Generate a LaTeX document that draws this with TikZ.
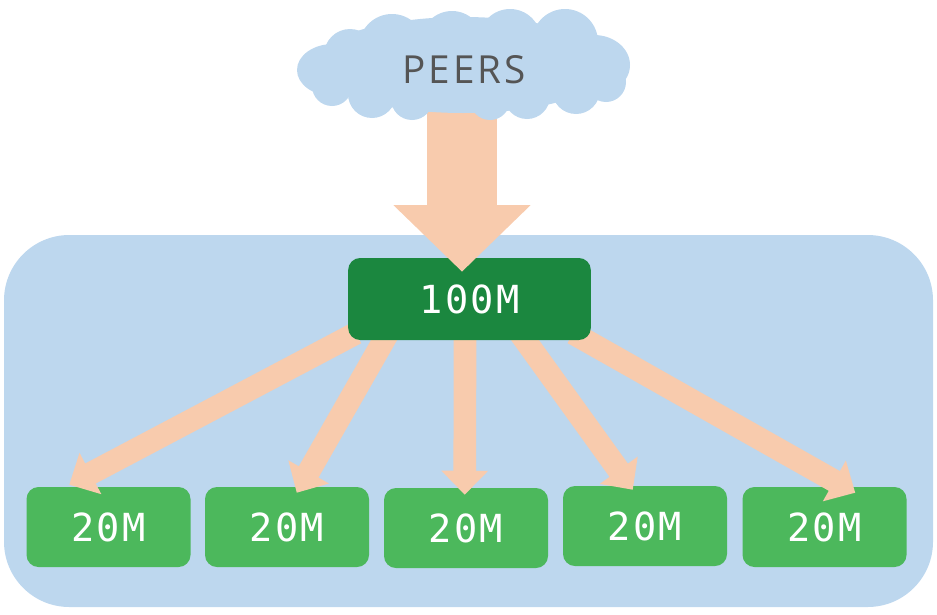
\documentclass[tikz,border=0pt]{standalone}
\usepackage{fontspec}
\setmonofont[LetterSpace=6]{DejaVu Sans Mono}
\newfontfamily\peersfont[LetterSpace=8]{Open Sans}
\usetikzlibrary{arrows.meta,calc}
\definecolor{bgblue}{HTML}{BDD7EE}
\definecolor{peach}{HTML}{F8CBAD}
\definecolor{darkgreen}{HTML}{1B873F}
\definecolor{lightgreen}{HTML}{4CB85C}
\definecolor{peersgray}{HTML}{555555}
\tikzset{
  smallbox/.style={fill=lightgreen, rounded corners=9pt, minimum width=123pt, minimum height=60pt, inner sep=0pt, text=white, font=\ttfamily\fontsize{29pt}{29pt}\selectfont},
  bigbox/.style={fill=darkgreen, rounded corners=9pt, minimum width=182pt, minimum height=61.5pt, inner sep=0pt, text=white, font=\ttfamily\fontsize{29pt}{29pt}\selectfont},
  flow/.style={draw=peach, line width=17pt, -{Triangle[length=18pt, width=34pt]}},
  bigflow/.style={draw=peach, line width=52.5pt, -{Triangle[length=50pt, width=100pt]}},
  cloudpart/.style={fill=bgblue}
}
\begin{document}
\begin{tikzpicture}[x=0.75pt, y=-0.75pt]
\useasboundingbox (0,0) rectangle (937,614);
% background panel
\fill[bgblue, rounded corners=49pt] (4,235) rectangle (933,607);
% small boxes
\node[smallbox] (s1) at (108.5,527) {20M};
\node[smallbox] (s2) at (287,527) {20M};
\node[smallbox] (s3) at (466,528) {20M};
\node[smallbox] (s4) at (645,526) {20M};
\node[smallbox] (s5) at (824.5,527) {20M};
% big box (placed first as coordinate holder, drawn after arrows)
\path (469.5,299) coordinate (bigc);
\node[bigbox, fill=none, text opacity=0] (bigref) at (bigc) {100M};
% arrows to small boxes
\draw[flow] ($(bigref.south west)+(8,-7)$) -- ($(s1.north west)+(43,-2)$);
\draw[flow] ($(bigref.south west)+(40,-7)$) -- ($(s2.north west)+(92,6)$);
\draw[flow] ($(bigref.south)+(-4.5,-7)$) -- ($(s3.north west)+(81,7)$);
\draw[flow] ($(bigref.south east)+(-71,-7)$) -- ($(s4.north west)+(70,4)$);
\draw[flow] ($(bigref.south east)+(-18,-7)$) -- ($(s5.north west)+(113,6)$);
% big box
\node[bigbox] (big) at (bigc) {100M};
% cloud
\coordinate (cloudc) at (463,65);
\draw[bigflow] ($(cloudc)+(-1,45)$) -- ($(big.north)+(-7.5,14)$);
\begin{scope}
\fill[cloudpart] (463,65) ellipse [x radius=150, y radius=48];
\fill[cloudpart] (333,70) ellipse [x radius=36, y radius=26];
\fill[cloudpart] (350,55) circle [radius=26];
\fill[cloudpart] (392,47) circle [radius=33];
\fill[cloudpart] (452,42) circle [radius=31];
\fill[cloudpart] (510,40) circle [radius=31];
\fill[cloudpart] (565,42) circle [radius=33];
\fill[cloudpart] (594,65) ellipse [x radius=36, y radius=30];
\fill[cloudpart] (332,86) circle [radius=20];
\fill[cloudpart] (372,94) circle [radius=24];
\fill[cloudpart] (412,99) circle [radius=21];
\fill[cloudpart] (490,100) circle [radius=20];
\fill[cloudpart] (527,96) circle [radius=23];
\fill[cloudpart] (576,90) circle [radius=24];
\fill[cloudpart] (606,82) circle [radius=20];
\end{scope}
\node[text=peersgray, font=\peersfont\fontsize{29pt}{29pt}\selectfont] (peers) at (464,70) {PEERS};
\end{tikzpicture}
\end{document}
